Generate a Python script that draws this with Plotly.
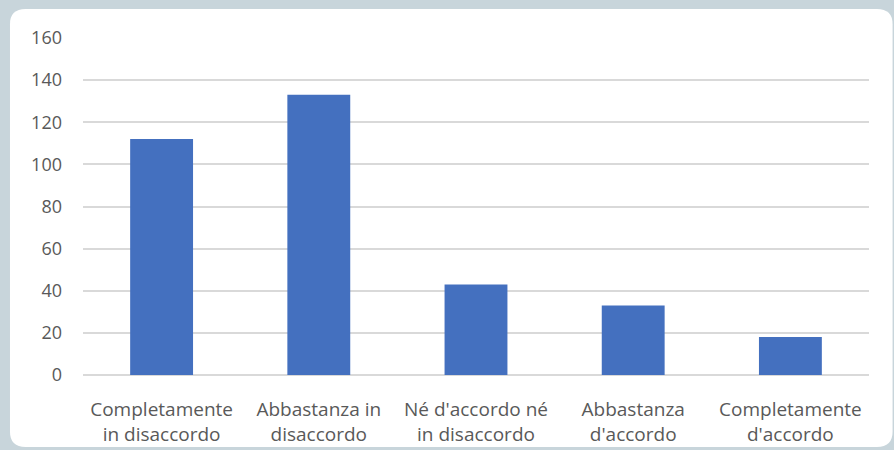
import plotly.graph_objects as go

# answers to the survey question
categories = [
    "Completamente<br>in disaccordo",
    "Abbastanza in<br>disaccordo",
    "Né d'accordo né<br>in disaccordo",
    "Abbastanza<br>d'accordo",
    "Completamente<br>d'accordo",
]
counts = [112, 133, 43, 33, 18]
y_ticks = [0, 20, 40, 60, 80, 100, 120, 140, 160]

fig = go.Figure(go.Bar(
    x=categories,
    y=counts,
    marker=dict(color="#4470BF", line=dict(width=0)),
))

# white rounded card on a grey-blue frame (paper coords are relative to plot area)
x0, x1, y0, y1 = -0.0929, 1.03, -0.2136, 1.086
rx, ry = 0.02, 0.045
card = (f"M {x0+rx},{y1} L {x1-rx},{y1} Q {x1},{y1} {x1},{y1-ry} "
        f"L {x1},{y0+ry} Q {x1},{y0} {x1-rx},{y0} "
        f"L {x0+rx},{y0} Q {x0},{y0} {x0},{y0+ry} "
        f"L {x0},{y1-ry} Q {x0},{y1} {x0+rx},{y1} Z")

fig.update_layout(
    width=894, height=450,
    margin=dict(l=83, r=25, t=38, b=75),
    paper_bgcolor="#c8d5db",
    plot_bgcolor="rgba(0,0,0,0)",
    font=dict(family="Open Sans", size=19, color="#595959"),
    bargap=0.6,
    showlegend=False,
    shapes=[dict(type="path", path=card, xref="paper", yref="paper",
                 fillcolor="white", line=dict(width=0), layer="below")],
    xaxis=dict(showgrid=False, showline=False, ticks="", automargin=False,
               ticklabelstandoff=21, tickfont=dict(size=19)),
    yaxis=dict(range=[0, 160], tickvals=y_ticks, showgrid=True,
               gridcolor="#d9d9d9", gridwidth=1.5, zeroline=True,
               zerolinecolor="#d9d9d9", zerolinewidth=1.5, automargin=False,
               ticks="", ticklabelstandoff=20, tickfont=dict(size=18)),
)

# drop the browser's default body margin so the figure fills the window
fig.write_html("out.html", config={"displayModeBar": False},
               post_script="document.body.style.margin='0';")
